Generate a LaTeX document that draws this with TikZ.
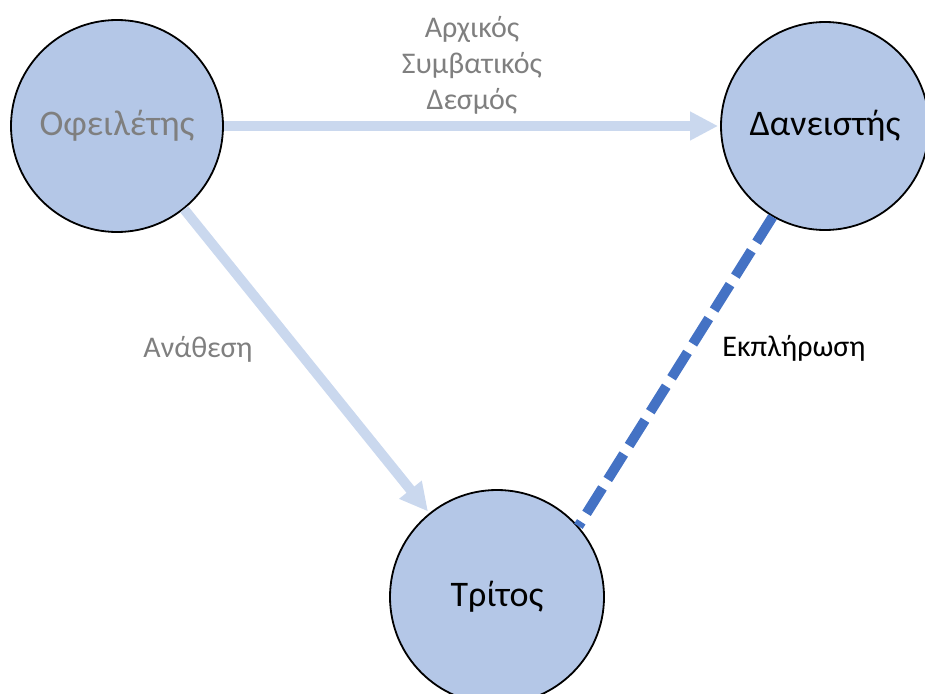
\documentclass[tikz,border=0pt]{standalone}
\usepackage{fontspec}
\setmainfont{Carlito}
\usetikzlibrary{arrows.meta}
\definecolor{circfill}{HTML}{B4C7E7}
\definecolor{arrowblue}{HTML}{CAD8EE}
\definecolor{dashblue}{HTML}{4472C4}
\definecolor{labelgray}{HTML}{7F7F7F}

\begin{document}
\begin{tikzpicture}[x=1pt,y=-1pt,
  party/.style={circle, draw=black, line width=1.8pt, fill=circfill, inner sep=0pt, font=\fontsize{36}{42}\selectfont},
  link/.style={draw=arrowblue, line width=10pt, shorten >=2pt, -{Triangle[length=28pt,width=27pt]}},
  lbl/.style={font=\fontsize{30}{36}\selectfont, align=center}]
\useasboundingbox (0,0) rectangle (925,693);
\node[party, minimum size=212pt, text=labelgray] (ofeil) at (117,126) {Οφειλέτης};
\node[party, minimum size=208pt] (danei) at (825,126) {Δανειστής};
\node[party, minimum size=214pt] (tritos) at (497,597) {Τρίτος};
% arrows
\draw[link] (ofeil) -- (danei) node[lbl, midway, above=3pt, text=labelgray] {Αρχικός\\Συμβατικός\\Δεσμός};
\draw[link] (ofeil) -- (tritos) node[lbl, pos=0.46, left=36pt, text=labelgray] {Ανάθεση};
\draw[dashblue, line width=10pt, dash pattern=on 30pt off 10pt] (danei.240) -- (tritos.41) node[lbl, pos=0.425, right=24pt, text=black] {Εκπλήρωση};
\end{tikzpicture}
\end{document}
